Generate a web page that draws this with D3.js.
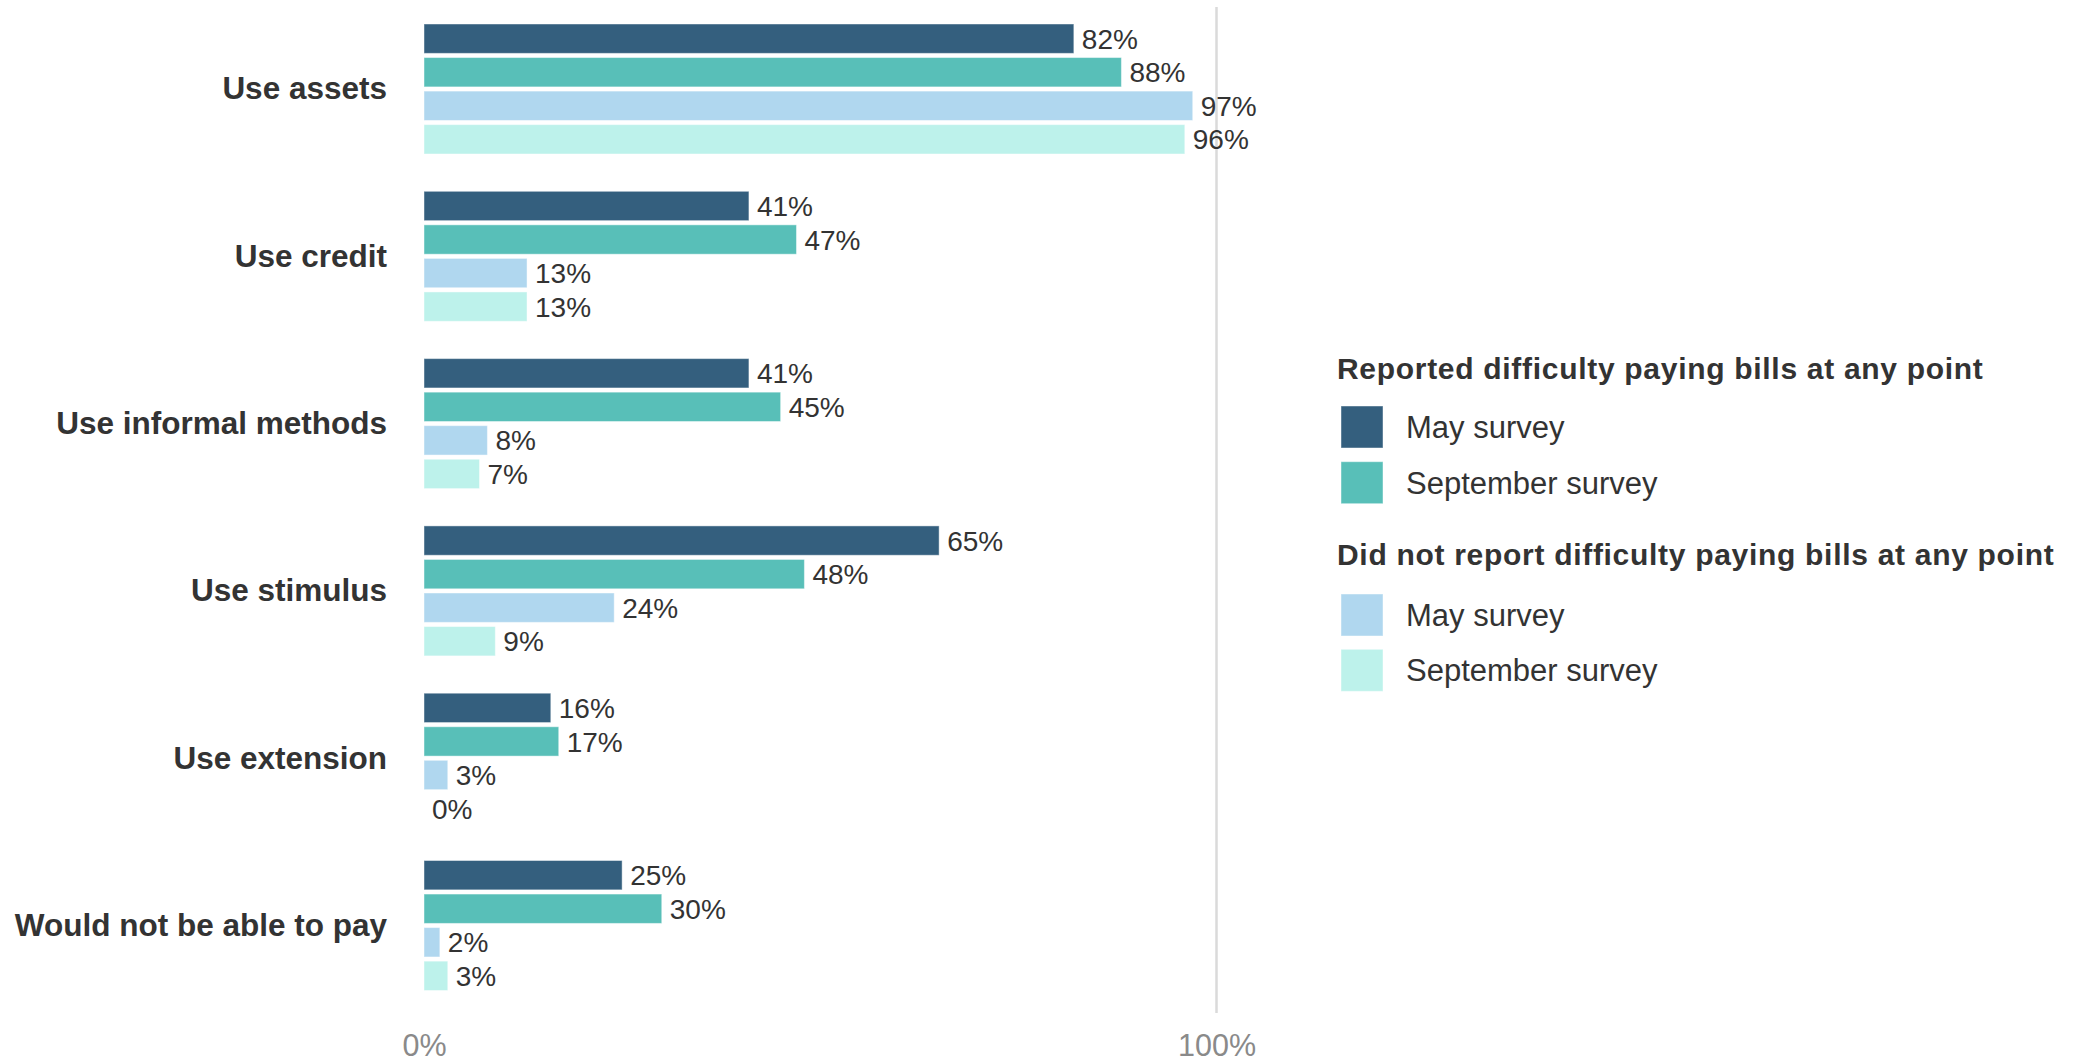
<!DOCTYPE html>
<html>
<head>
<meta charset="utf-8">
<script src="https://cdn.jsdelivr.net/npm/d3@7"></script>
<style>
  html, body { margin: 0; padding: 0; background: #ffffff; }
  svg { display: block; font-family: "Liberation Sans", Arial, Helvetica, sans-serif; }
</style>
</head>
<body>
<svg id="chart" width="2076" height="1061"></svg>
<script>
// Ways of covering bills, by group and survey wave (percent of respondents)
const categories = [
  "Use assets",
  "Use credit",
  "Use informal methods",
  "Use stimulus",
  "Use extension",
  "Would not be able to pay"
];
const seriesKeys = ["diffMay", "diffSep", "noDiffMay", "noDiffSep"];
const seriesLabels = ["May survey", "September survey", "May survey", "September survey"];
const legendGroups = [
  "Reported difficulty paying bills at any point",
  "Did not report difficulty paying bills at any point"
];
const diffMay   = [82, 41, 41, 65, 16, 25];
const diffSep   = [88, 47, 45, 48, 17, 30];
const noDiffMay = [97, 13, 8, 24, 3, 2];
const noDiffSep = [96, 13, 7, 9, 0, 3];
const xTicks = [0, 100];

const seriesValues = { diffMay, diffSep, noDiffMay, noDiffSep };
const colors = ["#345f7e", "#58bfb8", "#b0d7ef", "#bdf2eb"];

const svg = d3.select("#chart");

const x = d3.scaleLinear().domain([0, 100]).range([424, 1216.5]);

const y = d3.scaleBand()
  .domain(categories)
  .range([24, 990.5])
  .paddingInner(0.223)
  .paddingOuter(0);

const yInner = d3.scaleBand()
  .domain(seriesKeys)
  .range([0, y.bandwidth()])
  .paddingInner(0.125)
  .paddingOuter(0);

const color = d3.scaleOrdinal().domain(seriesKeys).range(colors);

// Reference line at 100%
svg.append("line")
  .attr("x1", x(100)).attr("x2", x(100))
  .attr("y1", 7).attr("y2", 1013)
  .attr("stroke", "#dadada")
  .attr("stroke-width", 2.5);

// Category labels
svg.append("g")
  .selectAll("text")
  .data(categories)
  .join("text")
  .attr("x", 387)
  .attr("y", d => y(d) + y.bandwidth() / 2)
  .attr("dy", "0.33em")
  .attr("text-anchor", "end")
  .attr("font-size", 31.5)
  .attr("font-weight", "bold")
  .attr("fill", "#333333")
  .text(d => d);

// Bars and value labels
const rows = [];
categories.forEach((c, i) => {
  seriesKeys.forEach(k => rows.push({ category: c, key: k, value: seriesValues[k][i] }));
});

const groups = svg.append("g")
  .selectAll("g")
  .data(rows)
  .join("g")
  .attr("transform", d => `translate(0,${y(d.category) + yInner(d.key)})`);

groups.filter(d => d.value > 0)
  .append("rect")
  .attr("x", x(0))
  .attr("y", 0)
  .attr("width", d => x(d.value) - x(0))
  .attr("height", yInner.bandwidth())
  .attr("fill", d => color(d.key))
  .attr("stroke", "rgba(255,255,255,0.45)")
  .attr("stroke-width", 1);

groups.append("text")
  .attr("x", d => x(d.value) + 8)
  .attr("y", yInner.bandwidth() / 2)
  .attr("dy", "0.36em")
  .attr("font-size", 28)
  .attr("fill", "#333333")
  .text(d => d.value + "%");

// Axis tick labels
const xAxis = d3.axisBottom(x)
  .tickValues(xTicks)
  .tickFormat(d => d + "%")
  .tickSize(0)
  .tickPadding(0);

const axisG = svg.append("g")
  .attr("transform", "translate(0,1034)")
  .call(xAxis);
axisG.select(".domain").remove();
axisG.selectAll("text")
  .attr("font-size", 30.5)
  .attr("font-family", "\"Liberation Sans\", Arial, Helvetica, sans-serif")
  .attr("fill", "#8a8a8a")
  .attr("dy", "0.71em");

// Legend
const legend = svg.append("g").attr("transform", "translate(1337,0)");
const legendLayout = [
  { title: legendGroups[0], titleY: 379, items: [0, 1], itemY: [406, 461.7] },
  { title: legendGroups[1], titleY: 565, items: [2, 3], itemY: [594, 649.3] }
];
legendLayout.forEach(g => {
  legend.append("text")
    .attr("x", 0)
    .attr("y", g.titleY)
    .attr("font-size", 30)
    .attr("font-weight", "bold")
    .attr("letter-spacing", 0.7)
    .attr("fill", "#333333")
    .text(g.title);
  g.items.forEach((idx, j) => {
    legend.append("rect")
      .attr("x", 4)
      .attr("y", g.itemY[j])
      .attr("width", 42)
      .attr("height", 42)
      .attr("fill", colors[idx])
      .attr("stroke", "rgba(255,255,255,0.45)")
      .attr("stroke-width", 1);
    legend.append("text")
      .attr("x", 69)
      .attr("y", g.itemY[j] + 21)
      .attr("dy", "0.36em")
      .attr("font-size", 31)
      .attr("fill", "#333333")
      .text(seriesLabels[idx]);
  });
});
</script>
</body>
</html>
